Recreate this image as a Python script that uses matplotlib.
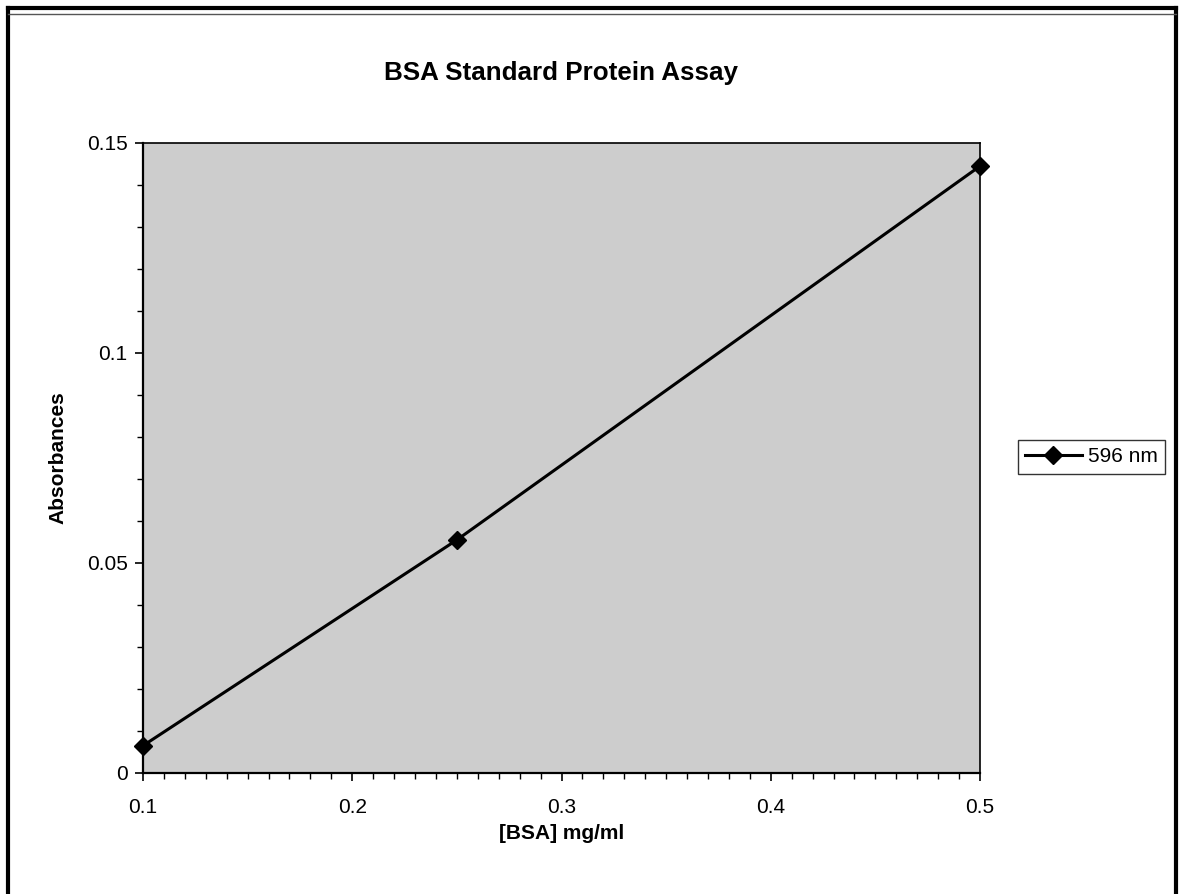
import matplotlib.pyplot as plt
from matplotlib.lines import Line2D
from matplotlib.ticker import MultipleLocator, FuncFormatter

plt.rcParams['font.family'] = ['Liberation Sans', 'DejaVu Sans']

# data
bsa_conc = [0.1, 0.25, 0.5]
absorb_596 = [0.0065, 0.0555, 0.1445]
series_name = '596 nm'

fig = plt.figure(figsize=(11.8, 8.94), dpi=100)
ax = fig.add_axes([143 / 1180, 121 / 894, 837 / 1180, 630 / 894])

ax.set_facecolor('#cdcdcd')
ax.plot(bsa_conc, absorb_596, color='black', lw=2.2, marker='D', ms=9,
        clip_on=False, zorder=5, label=series_name)

ax.set_xlim(0.1, 0.5)
ax.set_ylim(0, 0.15)
ax.xaxis.set_major_locator(MultipleLocator(0.1))
ax.xaxis.set_minor_locator(MultipleLocator(0.01))
ax.yaxis.set_major_locator(MultipleLocator(0.05))
ax.yaxis.set_minor_locator(MultipleLocator(0.01))
fmt = FuncFormatter(lambda v, p: '%g' % round(v, 4))
ax.xaxis.set_major_formatter(fmt)
ax.yaxis.set_major_formatter(fmt)

ax.tick_params(which='major', direction='out', length=6, width=1.2, labelsize=15, pad=12)
ax.tick_params(which='minor', direction='out', length=4, width=1)
ax.tick_params(axis='y', which='major', pad=5)

for s in ax.spines.values():
    s.set_linewidth(1.6)
    s.set_color('black')
ax.spines['top'].set_linewidth(1.2)
ax.spines['right'].set_linewidth(1.2)

ax.set_xlabel('[BSA] mg/ml', fontsize=15, fontweight='bold', labelpad=5)
ax.set_ylabel('Absorbances', fontsize=15, fontweight='bold', labelpad=14)
fig.text(561 / 1180, 1 - 73 / 894, 'BSA Standard Protein Assay', fontsize=18.7,
         fontweight='bold', ha='center', va='center')

leg = ax.legend(loc='center left', bbox_to_anchor=(1018 / 1180, 1 - 457 / 894),
                bbox_transform=fig.transFigure, fontsize=15, frameon=True,
                fancybox=False, borderpad=0.35, borderaxespad=0, handlelength=2.7,
                handletextpad=0.3)
leg.get_frame().set_edgecolor('black')
leg.get_frame().set_linewidth(1)

# outer border of the chart sheet (bottom edge is cut off in the scan)
W, H = 1180, 894
for xs, ys, lw, c in [([8, 8], [8, 900], 3, 'black'), ([1176, 1176], [8, 900], 3, 'black'),
                      ([8, 1176], [8, 8], 3, 'black'), ([8, 1176], [14, 14], 1, '#555555')]:
    fig.add_artist(Line2D([x / W for x in xs], [1 - y / H for y in ys],
                          color=c, lw=lw, transform=fig.transFigure))

fig.savefig('out.png', dpi=100)
